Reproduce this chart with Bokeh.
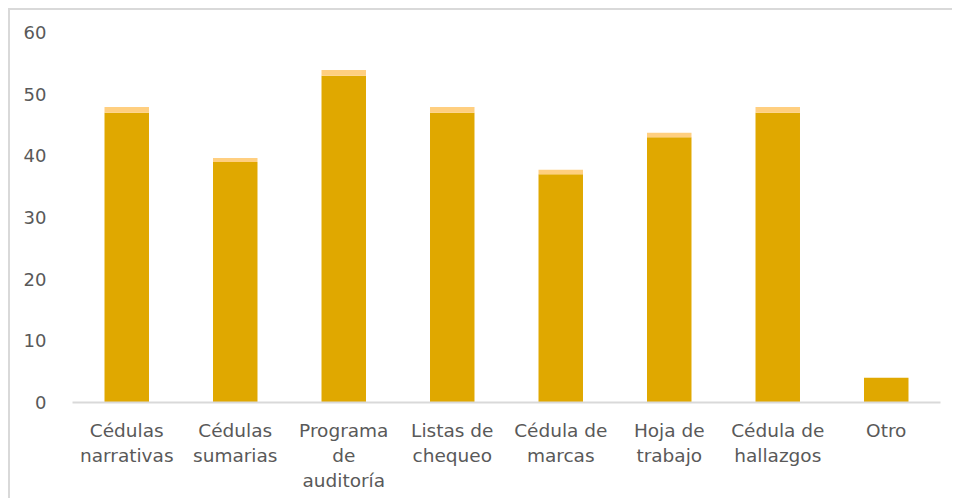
from bokeh.plotting import figure
from bokeh.models import ColumnDataSource, FixedTicker
from bokeh.embed import file_html
from bokeh.resources import INLINE

categories = ["Cédulas\nnarrativas", "Cédulas\nsumarias", "Programa\nde\nauditoría",
              "Listas de\nchequeo", "Cédula de\nmarcas", "Hoja de\ntrabajo",
              "Cédula de\nhallazgos", "Otro"]
base_values = [47, 39, 53, 47, 37, 43, 47, 4]
cap_values = [0.9, 0.65, 0.9, 0.9, 0.75, 0.75, 0.9, 0.0]
y_ticks = [0, 10, 20, 30, 40, 50, 60]

source = ColumnDataSource(data=dict(cat=categories, base=base_values, cap=cap_values))

p = figure(x_range=categories, y_range=(0, 60), width=944, height=490,
           output_backend="svg", toolbar_location=None,
           min_border_left=62, min_border_right=14, min_border_top=22, min_border_bottom=98)
p.styles = {"margin-left": "8px", "margin-top": "8px",
            "border-left": "2px solid #D9D9D9", "border-top": "2px solid #D9D9D9"}

p.vbar_stack(["base", "cap"], x="cat", width=0.41, source=source,
             color=["#E0A800", "#FFCF80"], line_color=None)

p.outline_line_color = None
p.xgrid.grid_line_color = None
p.ygrid.grid_line_color = None
p.x_range.range_padding = 0

font = "DejaVu Sans"
text_color = "#595959"
p.yaxis.ticker = FixedTicker(ticks=y_ticks)
p.yaxis.axis_line_color = None
p.yaxis.major_tick_line_color = None
p.yaxis.minor_tick_line_color = None
p.yaxis.major_label_standoff = 20
p.yaxis.major_label_text_font = font
p.yaxis.major_label_text_font_size = "18px"
p.yaxis.major_label_text_color = text_color

ax = p.xaxis[0]
ax.axis_line_color = "#D9D9D9"
ax.axis_line_width = 2
ax.major_tick_line_color = None
ax.minor_tick_line_color = None
ax.major_label_text_font = font
ax.major_label_text_font_size = "18.5px"
ax.major_label_text_color = text_color
ax.major_label_orientation = "horizontal"
ax.major_label_standoff = 11

open("out.html", "w").write(file_html(p, INLINE))
